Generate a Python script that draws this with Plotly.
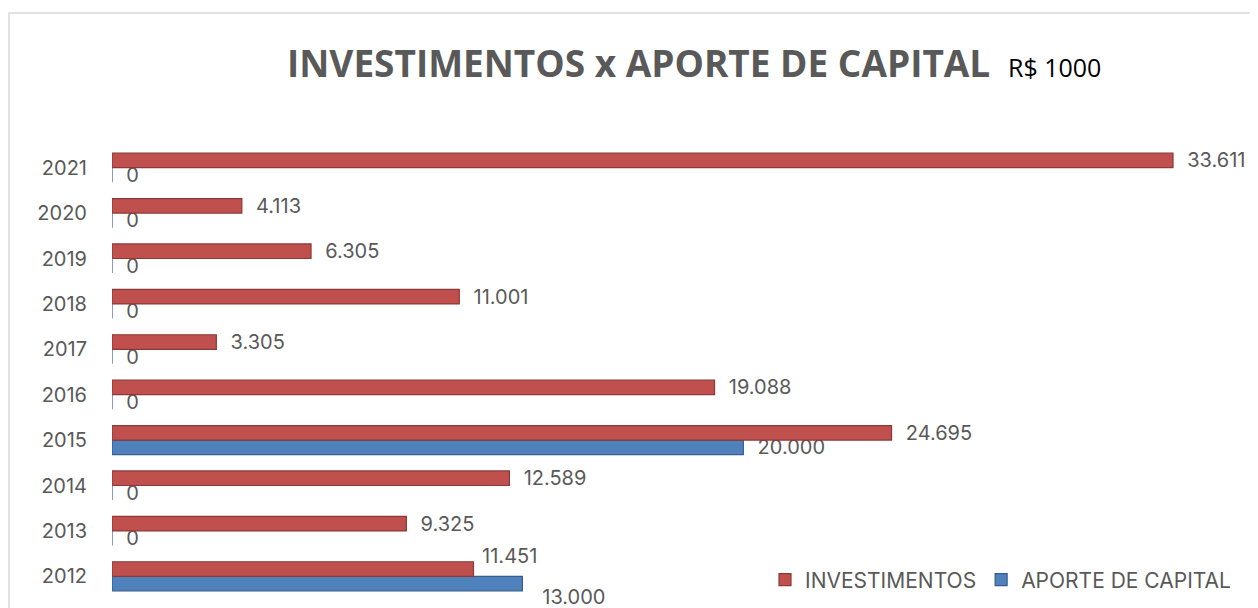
import plotly.graph_objects as go

years = ["2012", "2013", "2014", "2015", "2016", "2017", "2018", "2019", "2020", "2021"]
investimentos = [11451, 9325, 12589, 24695, 19088, 3305, 11001, 6305, 4113, 33611]
aporte = [13000, 0, 0, 20000, 0, 0, 0, 0, 0, 0]

RED = "#C0504D"
RED_DARK = "#8C3836"
BLUE = "#4F81BD"
BLUE_DARK = "#385D8A"
TXT = "#595959"
FONT = "Inter"

# page body has an 8px margin; geometry below is given in window pixels
OFF = 8
FIG_W, FIG_H = 1250, 600
PLOT_L, PLOT_R, PLOT_T, PLOT_B = 112, 1188, 145, 599  # window pixels
ML = PLOT_L - OFF
MR = FIG_W - (PLOT_R - OFF)
MT = PLOT_T - OFF
MB = FIG_H - (PLOT_B - OFF)
PW = PLOT_R - PLOT_L
PH = PLOT_B - PLOT_T
XMAX = 34086


def px(x):
    return (x - PLOT_L) / PW


def py(y):
    return 1 - (y - PLOT_T) / PH


NB = "\u00a0"
LBL = NB + NB + "%{x:,.0f}"
# first row (2012): red label lifted one half-line, blue label dropped one half-line
red_tpl = [NB + "%{x:,.0f}<br>" + NB] + [LBL] * (len(years) - 1)
blue_tpl = [NB + "<br>" + NB * 3 + "%{x:,.0f}"] + [LBL] * (len(years) - 1)

fig = go.Figure()
fig.add_trace(go.Bar(
    y=years, x=aporte, orientation="h", name="APORTE DE CAPITAL",
    marker=dict(color=BLUE, line=dict(color=BLUE_DARK, width=1.2)),
    texttemplate=blue_tpl, textposition="outside", constraintext="none",
    textfont=dict(family=FONT, size=20, color=TXT),
    cliponaxis=False,
))
fig.add_trace(go.Bar(
    y=years, x=investimentos, orientation="h", name="INVESTIMENTOS",
    marker=dict(color=RED, line=dict(color=RED_DARK, width=1.2)),
    texttemplate=red_tpl, textposition="outside", constraintext="none",
    textfont=dict(family=FONT, size=20, color=TXT),
    cliponaxis=False,
))

fig.update_layout(
    width=FIG_W, height=FIG_H,
    margin=dict(l=ML, r=MR, t=MT, b=MB, autoexpand=False),
    paper_bgcolor="white", plot_bgcolor="white",
    barmode="group", bargap=0.36, bargroupgap=0,
    separators=",.",
    showlegend=True,
    legend=dict(orientation="h", traceorder="reversed",
                x=px(1236), xanchor="right", y=py(580), yanchor="middle",
                font=dict(family=FONT, size=21, color=TXT),
                bgcolor="rgba(0,0,0,0)", itemwidth=30),
    xaxis=dict(range=[0, XMAX], visible=False, fixedrange=True),
    yaxis=dict(type="category", showline=False, showgrid=False, ticks="",
               ticklabelstandoff=24,
               tickfont=dict(family=FONT, size=20, color=TXT)),
    annotations=[
        dict(text="<b>INVESTIMENTOS x APORTE DE CAPITAL</b>", xref="paper", yref="paper",
             x=px(285), y=py(63), xanchor="left", yanchor="middle", showarrow=False,
             font=dict(family="Open Sans", size=37, color=TXT)),
        dict(text="R$ 1000", xref="paper", yref="paper",
             x=px(1006), y=py(67), xanchor="left", yanchor="middle", showarrow=False,
             font=dict(family="Open Sans", size=25, color="#000000")),
    ],
    shapes=[
        dict(type="rect", xref="paper", yref="paper",
             x0=px(9), x1=px(1280), y0=py(630), y1=py(13),
             line=dict(color="#D9D9D9", width=1.5), fillcolor="rgba(0,0,0,0)", layer="below"),
    ],
)

fig.write_html("out.html")
